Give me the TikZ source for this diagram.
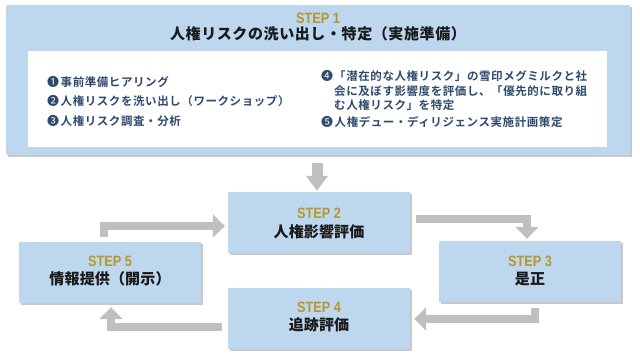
\documentclass[tikz,border=0pt]{standalone}
\usepackage{fontspec}
\setmainfont{Noto Sans CJK JP}
\newfontfamily\listfont[UprightFont=* Bold,LetterSpace=5]{Noto Sans CJK JP}
\newfontfamily\titlefont[LetterSpace=4]{Noto Sans CJK JP}
\newfontfamily\boxfont[LetterSpace=1]{Noto Sans CJK JP}
\newfontfamily\stepfont[FakeStretch=0.85]{Liberation Sans}
\newfontfamily\numfont{Noto Sans CJK JP}
\newcommand{\circnum}[1]{{\numfont\fontsize{12}{14}\selectfont #1}\hspace{1.5pt}}
\usetikzlibrary{shadows,arrows.meta,calc}
\definecolor{boxblue}{HTML}{BDD7EE}
\definecolor{arrgray}{HTML}{BFBFBF}
\definecolor{stepgold}{HTML}{B8962E}
\definecolor{listnavy}{HTML}{2E4A6F}
\definecolor{titleblack}{HTML}{1A1A1A}
\begin{document}
\begin{tikzpicture}[x=1pt,y=-1pt,
  box/.style={fill=boxblue, draw=none, inner sep=0pt, minimum width=182pt, minimum height=61pt,
    drop shadow={shadow xshift=1.5pt, shadow yshift=-2pt, opacity=0.3, fill=black!70}},
  steplbl/.style={inner sep=0pt, text=stepgold, font=\stepfont\bfseries\fontsize{15}{17}\selectfont},
  steptxt/.style={inner sep=0pt, text=titleblack, font=\boxfont\bfseries\fontsize{15}{17}\selectfont},
  listtxt/.style={inner sep=0pt, anchor=west, text=listnavy, text height=0.88em, text depth=0.12em,
    font=\listfont\fontsize{11.5}{14}\selectfont},
  arr/.style={draw=arrgray, line width=8pt, line join=miter, -{Triangle[width=23pt,length=12pt]}},
  toparr/.style={draw=arrgray, line width=11pt, -{Triangle[width=21pt,length=15pt]}}
]
\useasboundingbox (0,0) rectangle (640,359);
\fill[white] (0,0) rectangle (640,359);

% STEP 1 block
\node[fill=boxblue, inner sep=0pt, minimum width=624pt, minimum height=150pt,
  drop shadow={shadow xshift=1.5pt, shadow yshift=-2pt, opacity=0.3, fill=black!70}] (s1) at (318,80) {};
\node[fill=white, inner sep=0pt, minimum width=579pt, minimum height=96pt] (wl) at (317.5,99) {};
\node[steplbl] (s1l) at (318,18.5) {STEP 1};
\node[inner sep=0pt, text=titleblack, font=\titlefont\bfseries\fontsize{15}{17}\selectfont] (s1t) at (318,34) {人権リスクの洗い出し・特定（実施準備）};

\node[listtxt] (i1) at (47,83) {\circnum{❶}事前準備ヒアリング};
\node[listtxt] (i2) at (47,102) {\circnum{❷}人権リスクを洗い出し（ワークショップ）};
\node[listtxt] (i3) at (47,122) {\circnum{❸}人権リスク調査・分析};
\node[listtxt] (i4n) at (321,77) {\circnum{❹}};
\node[listtxt] (i4a) at (334,77) {「潜在的な人権リスク」の雪印メグミルクと社};
\node[listtxt] (i4b) at (334,92) {会に及ぼす影響度を評価し、「優先的に取り組};
\node[listtxt] (i4c) at (334,106) {む人権リスク」を特定};
\node[listtxt] (i5) at (321,123) {\circnum{❺}人権デュー・ディリジェンス実施計画策定};

% cycle boxes
\node[box] (s2) at (319,222.5) {};
\node[box] (s3) at (530,271.5) {};
\node[box] (s4) at (319,318) {};
\node[box] (s5) at (110,272.5) {};

\node[steplbl] (s2l) at ($(s2.center)+(0,-9.5)$) {STEP 2};
\node[steptxt] (s2t) at ($(s2.center)+(0,9)$) {人権影響評価};
\node[steplbl] (s3l) at ($(s3.center)+(0,-10.5)$) {STEP 3};
\node[steptxt] (s3t) at ($(s3.center)+(0,7.5)$) {是正};
\node[steplbl] (s4l) at ($(s4.center)+(0,-11)$) {STEP 4};
\node[steptxt] (s4t) at ($(s4.center)+(0,7)$) {追跡評価};
\node[steplbl] (s5l) at ($(s5.center)+(0,-11)$) {STEP 5};
\node[steptxt] (s5t) at ($(s5.center)+(0,6.5)$) {情報提供（開示）};

% arrows
\draw[toparr] ($(s1.south)+(-1,8)$) -- ($(s1.south |- s2.north)+(-1,-1)$);
\draw[arr] ($(s2.east)+(6,-4)$) -| ($(s3.north)+(-3,-2)$);
\draw[arr] ($(s3.south)+(5,6)$) |- ($(s4.east)+(4,1)$);
\draw[arr] ($(s4.west)+(-6,8.5)$) -| ($(s5.south)+(1,4)$);
\draw[arr] ($(s5.north)+(-6,-5)$) |- ($(s2.west)+(-3,3.5)$);
\end{tikzpicture}
\end{document}
